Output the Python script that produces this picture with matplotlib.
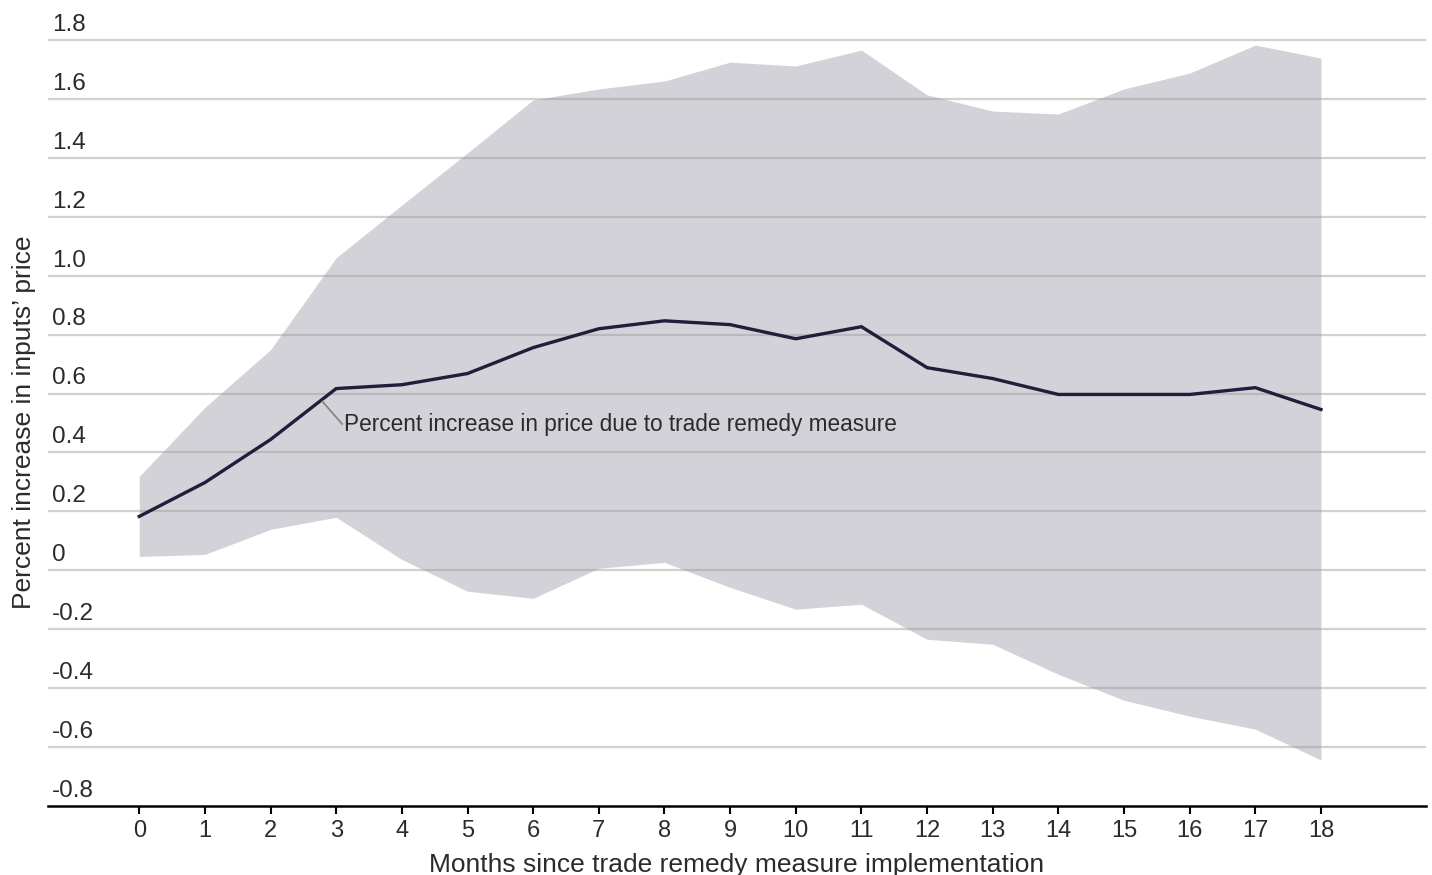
import matplotlib
matplotlib.use("Agg")
import matplotlib.pyplot as plt
import matplotlib.transforms as mtransforms

# Months since implementation
months = list(range(19))

# Point estimate (percent increase in price)
estimate = [0.183, 0.298, 0.444, 0.617, 0.630, 0.668, 0.756, 0.820, 0.847, 0.834,
            0.786, 0.827, 0.688, 0.651, 0.597, 0.597, 0.597, 0.620, 0.546]

# Confidence band
upper = [0.319, 0.553, 0.749, 1.061, 1.240, 1.417, 1.597, 1.634, 1.661, 1.725,
         1.712, 1.766, 1.614, 1.559, 1.549, 1.634, 1.688, 1.783, 1.739]
lower = [0.047, 0.054, 0.139, 0.180, 0.037, -0.071, -0.095, 0.007, 0.027, -0.058,
         -0.132, -0.115, -0.234, -0.251, -0.353, -0.441, -0.495, -0.539, -0.644]

y_ticks = [-0.8, -0.6, -0.4, -0.2, 0, 0.2, 0.4, 0.6, 0.8, 1.0, 1.2, 1.4, 1.6, 1.8]
y_tick_labels = ["-0.8", "-0.6", "-0.4", "-0.2", "0", "0.2", "0.4", "0.6", "0.8",
                 "1.0", "1.2", "1.4", "1.6", "1.8"]

plt.rcParams['font.family'] = ['Liberation Sans', 'DejaVu Sans']
text_color = '#2b2b2b'

fig = plt.figure(figsize=(14.32, 8.75), dpi=100)
ax = fig.add_axes([48 / 1432, 69 / 875, 1378 / 1432, 806 / 875])

# band and line
ax.fill_between(months, lower, upper, color='#d3d2d8', linewidth=0, zorder=1)
ax.plot(months, estimate, color='#211d3b', linewidth=2.4, zorder=3,
        solid_joinstyle='miter')

# gridlines drawn on top of the band, semi transparent
for v in y_ticks[1:]:
    ax.axhline(v, color='#9a9a9a', alpha=0.45, linewidth=1.6, zorder=2)

ax.set_xlim(-1.39, 19.6)
ax.set_ylim(-0.8, 1.936)

# y tick labels sit above the gridlines, left aligned
trans = mtransforms.blended_transform_factory(ax.transAxes, ax.transData)
offset = mtransforms.offset_copy(trans, fig=fig, x=2, y=3, units='points')
for v, lab in zip(y_ticks, y_tick_labels):
    ax.text(0.001, v, lab, transform=offset, ha='left', va='bottom',
            fontsize=17.5, color=text_color)
ax.set_yticks([])

ax.set_xticks(months)
ax.set_xticklabels([str(m) for m in months], fontsize=17, color=text_color)
ax.tick_params(axis='x', length=6, width=1.5, color='black', pad=4)

for s in ['top', 'right', 'left']:
    ax.spines[s].set_visible(False)
ax.spines['bottom'].set_linewidth(1.8)
ax.spines['bottom'].set_color('black')

ax.set_xlabel("Months since trade remedy measure implementation", fontsize=19,
              color=text_color, labelpad=8)
fig.text(24 / 1432, 1 - 422 / 875, "Percent increase in inputs\u2019 price",
         rotation=90, ha='center', va='center', fontsize=19, color=text_color)

# annotation with leader line
ax.plot([2.79, 3.09], [0.573, 0.497], color='#8a857c', linewidth=1.3, zorder=4)
ax.text(3.12, 0.495, "Percent increase in price due to trade remedy measure",
        fontsize=16.3, color=text_color, ha='left', va='center', zorder=4)

fig.savefig("out.png", dpi=100)
